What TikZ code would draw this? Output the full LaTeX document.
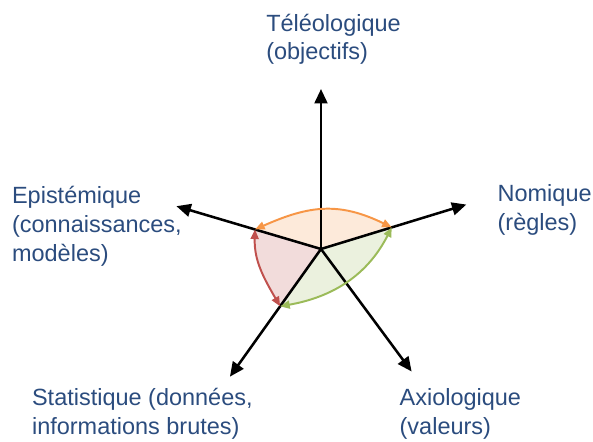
\documentclass[tikz,border=0pt]{standalone}
\usepackage{fontspec}
\setmainfont{Liberation Sans}
\usepackage{tikz}
\usepackage{xcolor}
\usetikzlibrary{arrows.meta}

\definecolor{txtblue}{HTML}{2B4C7E}
\definecolor{orline}{HTML}{F79646}
\definecolor{orfill}{HTML}{FDEADA}
\definecolor{grline}{HTML}{9BBB59}
\definecolor{grfill}{HTML}{EBF1DE}
\definecolor{rdline}{HTML}{C0504D}
\definecolor{rdfill}{HTML}{F2DCDB}

\begin{document}
\begin{tikzpicture}[every node/.style={inner sep=0pt, align=left, anchor=base west, text=txtblue, font=\fontsize{16.7}{20.6}\selectfont},
    axe/.style={line width=1.8pt, -{Triangle[length=0.36cm, width=0.32cm]}},
    link/.style={line width=1.4pt, {Triangle[length=0.24cm, width=0.2cm]}-{Triangle[length=0.24cm, width=0.2cm]}}]
            \useasboundingbox (-8.025,-4.825) rectangle (6.8,6.225);

            % Centre and axis ends
            \coordinate (O) at (0, 0);
            \coordinate (tel) at (90:4.0);
            \coordinate (nom) at (17:3.8);
            \coordinate (axi) at (-53.5:3.81);
            \coordinate (sta) at (-125.5:3.92);
            \coordinate (epi) at (163.5:3.77);

            % Points on the axes
            \coordinate (pnom) at (17:1.85);
            \coordinate (psta) at (-125.5:1.76);
            \coordinate (pepi) at (163.5:1.72);

            % Areas
            \fill[orfill] (O) -- (pepi) to[out=24, in=154, looseness=1.1] (pnom) -- cycle;
            \fill[grfill] (O) -- (pnom) to[out=243, in=10] (psta) -- cycle;
            \fill[rdfill] (O) -- (pepi) to[out=-92, in=120] (psta) -- cycle;

            % Axes
            \draw[axe] (O) -- (tel);
            \draw[axe] (O) -- (nom);
            \draw[axe] (O) -- (axi);
            \draw[axe] (O) -- (sta);
            \draw[axe] (O) -- (epi);

            % Links
            \draw[link, orline] (pepi) to[out=24, in=154, looseness=1.1] (pnom);
            \draw[link, grline] (pnom) to[out=243, in=10] (psta);
            \draw[link, rdline] (pepi) to[out=-92, in=120] (psta);

            % Labels (base = last line)
            \node (teltxt) at (-1.375, 4.725) {Téléologique\\(objectifs)};
            \node (nomtxt) at (4.41, 0.475) {Nomique\\(règles)};
            \node (axitxt) at (1.96, -4.625) {Axiologique\\(valeurs)};
            \node (statxt) at (-7.23, -4.63) {Statistique (données,\\informations brutes)};
            \node (epitxt) at (-7.73, -0.3) {Epistémique\\(connaissances,\\modèles)};
        \end{tikzpicture}
\end{document}
